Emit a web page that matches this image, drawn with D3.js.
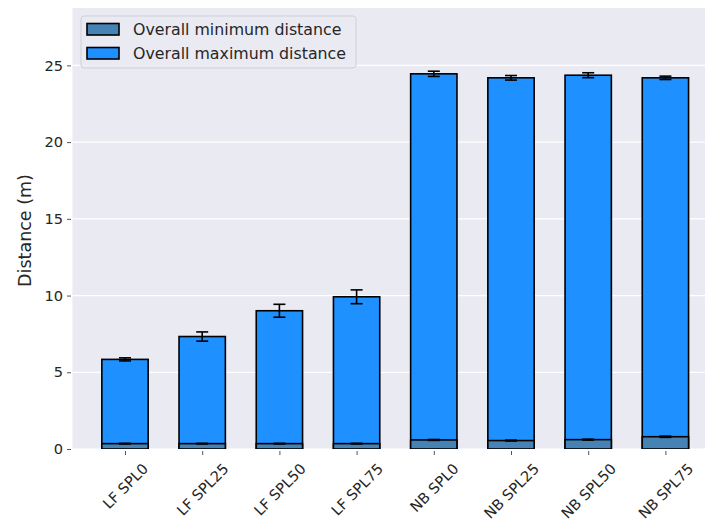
<!DOCTYPE html>
<html>
<head>
<meta charset="utf-8">
<script src="https://cdn.jsdelivr.net/npm/d3@7"></script>
<style>
  html, body { margin: 0; padding: 0; background: #ffffff; }
  svg { display: block; font-family: "DejaVu Sans", sans-serif; }
</style>
</head>
<body>
<svg id="chart" width="705" height="524"></svg>
<script>
// Category labels along the x axis
const categories = ["LF SPL0", "LF SPL25", "LF SPL50", "LF SPL75",
                    "NB SPL0", "NB SPL25", "NB SPL50", "NB SPL75"];
// Overall maximum distance (m) and its error
const maxDistance = [5.84, 7.33, 9.01, 9.92, 24.45, 24.19, 24.36, 24.19];
const maxError    = [0.10, 0.30, 0.42, 0.45, 0.17, 0.15, 0.16, 0.11];
// Overall minimum distance (m) and its error
const minDistance = [0.35, 0.35, 0.35, 0.35, 0.59, 0.55, 0.61, 0.80];
const minError    = [0.02, 0.02, 0.02, 0.02, 0.03, 0.03, 0.03, 0.04];
// Y tick values
const yTicks = [0, 5, 10, 15, 20, 25];
const legendLabels = ["Overall minimum distance", "Overall maximum distance"];
const colors = ["#4682b4", "#1e90ff"];

const plot = { left: 72.5, top: 8, right: 705, bottom: 449 };
const svg = d3.select("#chart");
const FONT = "'DejaVu Sans', sans-serif";

const x = d3.scaleLinear().domain([-0.68, 7.68]).range([72.5, 717.9]);
const y = d3.scaleLinear().domain([0, 28.74]).range([plot.bottom, plot.top]);
const barW = x(0.6) - x(0);

// Axes background
svg.append("rect")
  .attr("x", plot.left).attr("y", plot.top)
  .attr("width", plot.right - plot.left).attr("height", plot.bottom - plot.top)
  .attr("fill", "#eaeaf2");

svg.append("clipPath").attr("id", "plotclip")
  .append("rect")
  .attr("x", plot.left).attr("y", plot.top)
  .attr("width", plot.right - plot.left).attr("height", plot.bottom - plot.top);

// Horizontal grid lines
svg.append("g").selectAll("line").data(yTicks).join("line")
  .attr("x1", plot.left).attr("x2", plot.right)
  .attr("y1", d => y(d)).attr("y2", d => y(d))
  .attr("stroke", "#ffffff").attr("stroke-width", 1.2);

// Y axis (ticks + labels)
const yAxis = d3.axisLeft(y).tickValues(yTicks).tickSize(4).tickPadding(4).tickFormat(d3.format("d"));
const gy = svg.append("g").attr("transform", `translate(${plot.left - 1.5},0)`).call(yAxis);
gy.select(".domain").remove();
gy.selectAll(".tick line").attr("stroke", "#555555").attr("stroke-width", 1);
gy.selectAll(".tick text").attr("fill", "#262626").style("font-size", "14.6px")
  .style("font-family", FONT);

// X axis: ticks, then 45° labels whose rotated box is centred under each tick
const xAxis = d3.axisBottom(x).tickValues(d3.range(categories.length))
  .tickSize(4).tickFormat(i => categories[i]);
const gx = svg.append("g").attr("transform", `translate(0,${plot.bottom + 2})`).call(xAxis);
gx.select(".domain").remove();
gx.selectAll(".tick line").attr("stroke", "#555555").attr("stroke-width", 1);
const labelTop = 10;   // distance from axis group origin to the top of the rotated label box
const labelH = 14.6;
gx.selectAll(".tick text")
  .attr("fill", "#262626").style("font-size", "14.6px")
  .style("font-family", FONT)
  .attr("text-anchor", "middle")
  .attr("y", null).attr("dy", "0.35em")
  .each(function () {
    const w = this.getComputedTextLength();
    const cy = labelTop + (w + labelH) / (2 * Math.SQRT2);
    d3.select(this).attr("transform", `translate(0,${cy}) rotate(-45)`);
  });

// Bars
const bars = svg.append("g").attr("clip-path", "url(#plotclip)");
bars.selectAll("rect.max").data(maxDistance).join("rect").attr("class", "max")
  .attr("x", (d, i) => x(i) - barW / 2).attr("width", barW)
  .attr("y", d => y(d)).attr("height", d => y(0) - y(d))
  .attr("fill", colors[1]).attr("stroke", "#000").attr("stroke-width", 1.6);
bars.selectAll("rect.min").data(minDistance).join("rect").attr("class", "min")
  .attr("x", (d, i) => x(i) - barW / 2).attr("width", barW)
  .attr("y", d => y(d)).attr("height", d => y(0) - y(d))
  .attr("fill", colors[0]).attr("stroke", "#000").attr("stroke-width", 1.6);

// Error bars
function errorBars(vals, errs) {
  const g = svg.append("g").attr("stroke", "#000").attr("stroke-width", 1.6);
  const cap = 6;
  vals.forEach((v, i) => {
    const cx = x(i), lo = y(v - errs[i]), hi = y(v + errs[i]);
    g.append("line").attr("x1", cx).attr("x2", cx).attr("y1", lo).attr("y2", hi);
    g.append("line").attr("x1", cx - cap).attr("x2", cx + cap).attr("y1", lo).attr("y2", lo);
    g.append("line").attr("x1", cx - cap).attr("x2", cx + cap).attr("y1", hi).attr("y2", hi);
  });
}
errorBars(maxDistance, maxError);
errorBars(minDistance, minError);

// Y axis label
svg.append("text")
  .attr("transform", `translate(31,${(plot.top + plot.bottom) / 2 + 2}) rotate(-90)`)
  .attr("text-anchor", "middle")
  .attr("fill", "#262626").style("font-size", "17.5px")
  .text("Distance (m)");

// Legend
const lg = svg.append("g").attr("transform", "translate(81,16)");
lg.append("rect").attr("x", 0).attr("y", 0).attr("width", 275).attr("height", 52)
  .attr("rx", 3).attr("fill", "#eaeaf2").attr("fill-opacity", 0.8)
  .attr("stroke", "#d0d0d8").attr("stroke-width", 1);
legendLabels.forEach((lab, i) => {
  const ry = 7.5 + i * 24;
  lg.append("rect").attr("x", 6).attr("y", ry).attr("width", 32).attr("height", 11.5)
    .attr("fill", colors[i]).attr("stroke", "#000").attr("stroke-width", 1.6);
  lg.append("text").attr("x", 52).attr("y", ry + 11)
    .attr("fill", "#262626").style("font-size", "15.8px").text(lab);
});
</script>
</body>
</html>
